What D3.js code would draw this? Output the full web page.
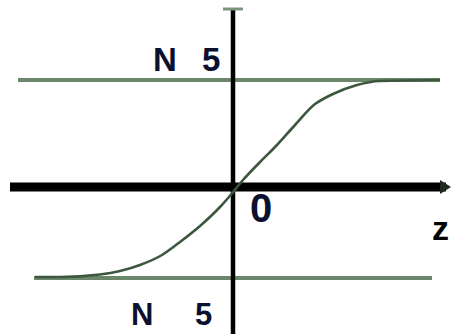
<!DOCTYPE html>
<html>
<head>
<meta charset="utf-8">
<script src="https://cdn.jsdelivr.net/npm/d3@7"></script>
<style>
  html, body { margin: 0; padding: 0; background: #fff; }
  svg { display: block; }
  text { font-family: "Liberation Sans", Arial, sans-serif; font-weight: bold; }
</style>
</head>
<body>
<svg id="chart" width="452" height="334"></svg>
<script>
// Sampled points of the saturating curve (z, value)
const curveZ = [-3.96, -3.46, -2.66, -2.26, -1.86, -1.42, -1.06, -0.66, -0.26, -0.08, 0.20, 0.54, 0.88, 1.24, 1.64, 1.84, 2.00, 2.48, 2.94, 4.14];
const curveY = [-0.90, -0.90, -0.875, -0.84, -0.78, -0.68, -0.55, -0.39, -0.20, -0.10, 0.07, 0.25, 0.42, 0.62, 0.83, 0.89, 0.93, 1.02, 1.06, 1.07];

// Horizontal asymptote levels and their extents in z
const asymptoteLevels = [1.07, -0.91];
const asymptoteStart = [-4.30, -3.98];
const asymptoteEnd = [4.14, 3.98];

// Label texts
const levelLabels = [["N", "5"], ["N", "5"]];
const originLabel = "0";
const axisLabel = "z";

const svg = d3.select("#chart");

// 1 unit in z = 50px, 1 unit in value = 100px; origin at (233, 187)
const x = d3.scaleLinear().domain([-4, 4]).range([33, 433]);
const y = d3.scaleLinear().domain([-1.5, 1.5]).range([337, 37]);

const green = "#6b876b";

// asymptotes
svg.selectAll("line.asym")
  .data(asymptoteLevels)
  .join("line")
  .attr("class", "asym")
  .attr("x1", (d, i) => x(asymptoteStart[i]))
  .attr("x2", (d, i) => x(asymptoteEnd[i]))
  .attr("y1", d => y(d))
  .attr("y2", d => y(d))
  .attr("stroke", green)
  .attr("stroke-width", 4);

// vertical axis
svg.append("line")
  .attr("x1", x(0)).attr("x2", x(0))
  .attr("y1", 8).attr("y2", 334)
  .attr("stroke", "#000").attr("stroke-width", 4.5);
svg.append("line")
  .attr("x1", x(0) - 10).attr("x2", x(0) + 10)
  .attr("y1", 9).attr("y2", 9)
  .attr("stroke", "#7c957c").attr("stroke-width", 3);

// horizontal axis with arrow
svg.append("line")
  .attr("x1", 10).attr("x2", 446)
  .attr("y1", y(0)).attr("y2", y(0))
  .attr("stroke", "#000").attr("stroke-width", 9);
svg.append("path")
  .attr("d", `M440,${y(0) - 7} L451,${y(0)} L440,${y(0) + 7} Z`)
  .attr("fill", "#1e2a1e");

// curve
const pts = curveZ.map((z, i) => [z, curveY[i]]);
svg.append("path")
  .datum(pts)
  .attr("fill", "none")
  .attr("stroke", "#3d573e")
  .attr("stroke-width", 2.6)
  .attr("d", d3.line().x(d => x(d[0])).y(d => y(d[1])).curve(d3.curveMonotoneX));

// level labels
const labelPos = [
  { y: 71, xs: [153, 202], size: 33 },
  { y: 325, xs: [131, 195], size: 31 }
];
levelLabels.forEach((pair, i) => {
  pair.forEach((t, j) => {
    svg.append("text")
      .attr("x", labelPos[i].xs[j])
      .attr("y", labelPos[i].y)
      .attr("font-size", labelPos[i].size)
      .attr("fill", "#0a1030")
      .text(t);
  });
});

// origin and axis labels
svg.append("text")
  .attr("x", 250).attr("y", 222)
  .attr("font-size", 40)
  .attr("fill", "#0a1030")
  .text(originLabel);
svg.append("text")
  .attr("x", 432).attr("y", 240)
  .attr("font-size", 34)
  .attr("fill", "#000")
  .text(axisLabel);
</script>
</body>
</html>
